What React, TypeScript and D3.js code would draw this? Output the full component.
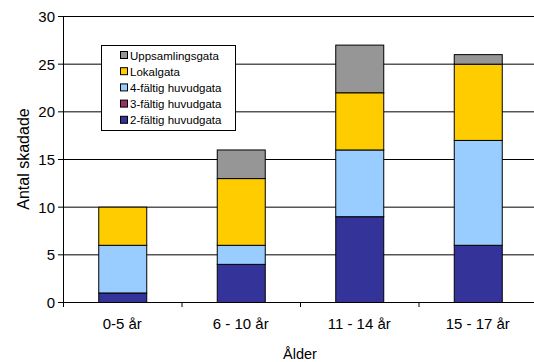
import React from "react";
import * as d3 from "d3";

const categories = ["0-5 år", "6 - 10 år", "11 - 14 år", "15 - 17 år"];
const seriesNames = ["2-fältig huvudgata", "3-fältig huvudgata", "4-fältig huvudgata", "Lokalgata", "Uppsamlingsgata"];
const seriesColors = ["#333399", "#993366", "#99CCFF", "#FFCC00", "#969696"];
const tvafaltig = [1, 4, 9, 6];
const trefaltig = [0, 0, 0, 0];
const fyrfaltig = [5, 2, 7, 11];
const lokalgata = [4, 7, 6, 8];
const uppsamlingsgata = [0, 3, 5, 1];
const yTicks = [0, 5, 10, 15, 20, 25, 30];

const W = 534;
const H = 362;
const left = 63;
const right = 537;
const top = 16;
const bottom = 302;
const font = "Liberation Sans, Arial, sans-serif";

export default function App() {
  const values = [tvafaltig, trefaltig, fyrfaltig, lokalgata, uppsamlingsgata];
  const rows = categories.map((c, i) => {
    const r: Record<string, number | string> = { cat: c };
    seriesNames.forEach((s, k) => (r[s] = values[k][i]));
    return r;
  });
  const stacked = d3.stack<any>().keys(seriesNames)(rows as any);

  const x = d3.scaleBand().domain(categories).range([left, right]).paddingInner(0.595).paddingOuter(0.2975);
  const y = d3.scaleLinear().domain([0, 30]).range([bottom, top]);
  const step = (right - left) / categories.length;

  const legendItems = seriesNames.map((s, i) => ({ name: s, color: seriesColors[i] })).reverse();

  return (
    <div style={{ position: "absolute", left: 0, top: 0 }}>
      <svg width={W} height={H} style={{ display: "block" }} fontFamily={font}>
        <rect x={0} y={0} width={W} height={H} fill="#fff" />
        {yTicks.filter((t) => t > 0).map((t) => (
          <line key={t} x1={left} x2={W} y1={y(t) + 0.5} y2={y(t) + 0.5} stroke="#000" strokeWidth={1} />
        ))}
        {stacked.map((layer, k) =>
          layer.map((d, i) => {
            const h = y(d[0]) - y(d[1]);
            if (h <= 0) return null;
            return (
              <rect
                key={`${k}-${i}`}
                x={x(categories[i])! + 0.5}
                y={y(d[1]) + 0.5}
                width={x.bandwidth()}
                height={h}
                fill={seriesColors[k]}
                stroke="#000"
                strokeWidth={1}
              />
            );
          })
        )}
        {/* axes */}
        <line x1={left + 0.5} x2={left + 0.5} y1={top} y2={bottom} stroke="#000" />
        <line x1={left} x2={W} y1={bottom + 0.5} y2={bottom + 0.5} stroke="#000" />
        {yTicks.map((t) => (
          <g key={t}>
            <line x1={left - 5} x2={left} y1={y(t) + 0.5} y2={y(t) + 0.5} stroke="#000" />
            <text x={55} y={y(t) + 6} textAnchor="end" fontSize={15} fill="#000">
              {t}
            </text>
          </g>
        ))}
        {categories.map((c, i) => (
          <g key={c}>
            <line x1={left + step * i + 0.5} x2={left + step * i + 0.5} y1={bottom} y2={bottom + 5} stroke="#000" />
            <text x={x(c)! + x.bandwidth() / 2} y={329} textAnchor="middle" fontSize={15} fill="#000">
              {c}
            </text>
          </g>
        ))}
        <text x={(left + right) / 2} y={359} textAnchor="middle" fontSize={14.5} fill="#000">
          Ålder
        </text>
        <text
          transform={`translate(29,${(top + bottom) / 2}) rotate(-90)`}
          textAnchor="middle"
          fontSize={16}
          fill="#000"
        >
          Antal skadade
        </text>
        {/* legend */}
        <rect x={101.5} y={45.5} width={134} height={85} fill="#fff" stroke="#000" />
        {legendItems.map((it, i) => (
          <g key={it.name} transform={`translate(120,${51 + i * 16.2})`}>
            <rect x={0.5} y={0.5} width={7} height={7} fill={it.color} stroke="#000" />
            <text x={10} y={8.5} fontSize={11.5} fill="#000">
              {it.name}
            </text>
          </g>
        ))}
      </svg>
    </div>
  );
}
